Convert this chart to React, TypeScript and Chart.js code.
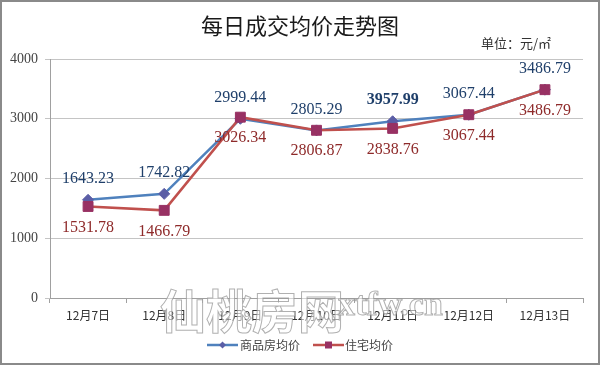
import React, { useEffect, useRef } from "react";
import { Chart, registerables } from "chart.js";

Chart.register(...registerables);

const categories = ["12月7日", "12月8日", "12月9日", "12月10日", "12月11日", "12月12日", "12月13日"];
const commercialValues = [1643.23, 1742.82, 2999.44, 2805.29, 2957.99, 3067.44, 3486.79];
const residentialValues = [1531.78, 1466.79, 3026.34, 2806.87, 2838.76, 3067.44, 3486.79];
const commercialLabels = ["1643.23", "1742.82", "2999.44", "2805.29", "3957.99", "3067.44", "3486.79"];
const residentialLabels = ["1531.78", "1466.79", "3026.34", "2806.87", "2838.76", "3067.44", "3486.79"];
const seriesNames = ["商品房均价", "住宅均价"];
const yMin = 0;
const yMax = 4000;
const yStep = 1000;
const titleText = "每日成交均价走势图";
const unitText = "单位：元/㎡";
const watermarkCn = "仙桃房网";
const watermarkEn = "xtfw.cn";

const BLUE_LINE = "#4F81BD";
const BLUE_MARK = "#5B5EA6";
const RED_LINE = "#C0504D";
const RED_MARK = "#983163";
const BLUE_TEXT = "#1F3F6A";
const RED_TEXT = "#8E2A2A";
const CJK = "'Noto Sans CJK SC', 'Noto Sans', sans-serif";
const SERIF = "'Liberation Serif', 'DejaVu Serif', serif";

const decorPlugin = {
  id: "decor",
  beforeDraw(chart: any) {
    const ctx = chart.ctx;
    ctx.save();
    ctx.fillStyle = "#ffffff";
    ctx.fillRect(0, 0, chart.width, chart.height);
    ctx.restore();
  },
  afterDatasetsDraw(chart: any) {
    const ctx = chart.ctx;
    ctx.save();
    ctx.textAlign = "center";
    ctx.textBaseline = "middle";
    const metaB = chart.getDatasetMeta(0);
    metaB.data.forEach((pt: any, i: number) => {
      ctx.font = (i === 4 ? "bold " : "") + "16px " + SERIF;
      ctx.fillStyle = BLUE_TEXT;
      ctx.fillText(commercialLabels[i], pt.x, pt.y - 21);
    });
    const metaR = chart.getDatasetMeta(1);
    metaR.data.forEach((pt: any, i: number) => {
      ctx.font = "16px " + SERIF;
      ctx.fillStyle = RED_TEXT;
      ctx.fillText(residentialLabels[i], pt.x, pt.y + 21);
    });
    ctx.restore();
  },
  afterDraw(chart: any) {
    const ctx = chart.ctx;
    ctx.save();
    // title
    ctx.fillStyle = "#1a1a1a";
    ctx.textAlign = "center";
    ctx.textBaseline = "middle";
    ctx.font = "22px " + CJK;
    ctx.fillText(titleText, 300, 26);
    // unit
    ctx.font = "13px " + CJK;
    ctx.fillStyle = "#333";
    ctx.textAlign = "left";
    ctx.fillText(unitText, 481, 43);
    // legend
    const ly = 345;
    ctx.lineWidth = 2.5;
    ctx.strokeStyle = BLUE_LINE;
    ctx.beginPath();
    ctx.moveTo(207, ly);
    ctx.lineTo(238, ly);
    ctx.stroke();
    ctx.fillStyle = BLUE_MARK;
    ctx.beginPath();
    ctx.moveTo(222.5 - 3.5, ly);
    ctx.lineTo(222.5, ly - 3.5);
    ctx.lineTo(222.5 + 3.5, ly);
    ctx.lineTo(222.5, ly + 3.5);
    ctx.closePath();
    ctx.fill();
    ctx.strokeStyle = RED_LINE;
    ctx.beginPath();
    ctx.moveTo(313, ly);
    ctx.lineTo(344, ly);
    ctx.stroke();
    ctx.fillStyle = RED_MARK;
    ctx.fillRect(328.5 - 3.5, ly - 3.5, 7, 7);
    ctx.font = "12px " + CJK;
    ctx.fillStyle = "#444";
    ctx.textAlign = "left";
    ctx.fillText(seriesNames[0], 240, ly);
    ctx.fillText(seriesNames[1], 345, ly);
    // watermark
    ctx.lineWidth = 1;
    ctx.strokeStyle = "rgba(150,150,150,0.75)";
    ctx.fillStyle = "rgba(255,255,255,0.55)";
    ctx.font = "bold 46px " + CJK;
    ctx.textAlign = "left";
    ctx.fillText(watermarkCn, 160, 311);
    ctx.strokeText(watermarkCn, 160, 311);
    ctx.font = "bold 34px " + SERIF;
    ctx.fillText(watermarkEn, 338, 306);
    ctx.strokeText(watermarkEn, 338, 306);
    // outer frame
    ctx.lineWidth = 2;
    ctx.strokeStyle = "#8a8a8a";
    ctx.strokeRect(1, 1, chart.width - 2, chart.height - 2);
    ctx.restore();
  },
};

export default function App() {
  const ref = useRef<HTMLCanvasElement>(null);
  useEffect(() => {
    document.body.style.margin = "0";
    if (!ref.current) return;
    const chart = new Chart(ref.current, {
      type: "line",
      data: {
        labels: categories,
        datasets: [
          {
            label: seriesNames[0],
            data: commercialValues,
            borderColor: BLUE_LINE,
            backgroundColor: BLUE_MARK,
            borderWidth: 2.5,
            pointStyle: "rectRot",
            pointRadius: 5.5,
            pointBackgroundColor: BLUE_MARK,
            pointBorderColor: BLUE_MARK,
            pointBorderWidth: 1,
            tension: 0,
            order: 2,
          },
          {
            label: seriesNames[1],
            data: residentialValues,
            borderColor: RED_LINE,
            backgroundColor: RED_MARK,
            borderWidth: 2.5,
            pointStyle: "rect",
            pointRadius: 7,
            pointBackgroundColor: RED_MARK,
            pointBorderColor: RED_MARK,
            pointBorderWidth: 1,
            tension: 0,
            order: 1,
          },
        ],
      },
      options: {
        responsive: false,
        animation: false,
        layout: { padding: { top: 59, right: 17, left: 0, bottom: 0 } },
        plugins: {
          legend: { display: false },
          title: { display: false },
          tooltip: { enabled: false },
        },
        scales: {
          x: {
            type: "category",
            offset: true,
            grid: {
              offset: true,
              drawOnChartArea: false,
              drawTicks: true,
              tickLength: 5,
              color: "#a0a0a0",
            },
            border: { color: "#a0a0a0" },
            ticks: {
              color: "#333",
              font: { family: CJK, size: 12 },
              padding: 5,
              maxRotation: 0,
              autoSkip: false,
            },
            afterFit(scale: any) {
              scale.height = 67;
            },
          },
          y: {
            min: yMin,
            max: yMax,
            ticks: {
              stepSize: yStep,
              color: "#444",
              font: { family: SERIF, size: 14 },
              padding: 7,
              callback: (v: any) => String(v),
            },
            grid: { color: "#c4c4c4", tickLength: 5 },
            border: { color: "#a0a0a0" },
            afterFit(scale: any) {
              scale.width = 50;
            },
          },
        },
      },
      plugins: [decorPlugin],
    });
    return () => chart.destroy();
  }, []);
  return <canvas ref={ref} width={600} height={365} style={{ display: "block" }} />;
}
